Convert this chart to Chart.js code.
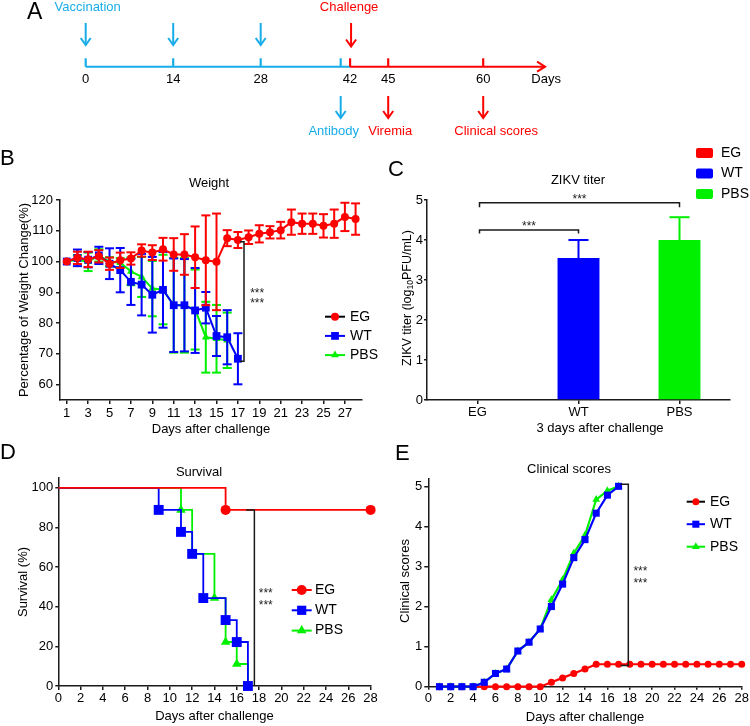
<!DOCTYPE html>
<html>
<head>
<meta charset="utf-8">
<script src="https://cdn.jsdelivr.net/npm/chart.js"></script>
<style>
  html, body { margin: 0; padding: 0; background: #fff; }
  #wrap { position: relative; width: 750px; height: 726px; overflow: hidden; background: #fff; }
  canvas { position: absolute; }
</style>
</head>
<body>
<div id="wrap">
  <canvas id="cA" style="left:0;top:0" width="750" height="145"></canvas>
  <canvas id="cB" style="left:0;top:145px" width="380" height="295"></canvas>
  <canvas id="cC" style="left:375px;top:145px" width="375" height="295"></canvas>
  <canvas id="cD" style="left:0;top:440px" width="380" height="286"></canvas>
  <canvas id="cE" style="left:375px;top:440px" width="375" height="286"></canvas>
</div>
<script>
// ---- data ----
const timelineDays = [0, 14, 28, 42, 45, 60];
const vaccinationDays = [0, 14, 28];
const challengeDay = 42;
const readoutDays = [42, 45, 60];
const readoutLabels = ['Antibody', 'Viremia', 'Clinical scores'];

const groups = ['EG', 'WT', 'PBS'];

// B: weight (% of day 1), mean and SD
const weightDays = [1,2,3,4,5,6,7,8,9,10,11,12,13,14,15,16,17,18,19,20,21,22,23,24,25,26,27,28];
const weightTicks = [1,3,5,7,9,11,13,15,17,19,21,23,25,27];
const egWeight = [100,101.2,100.7,101.7,99.3,100.4,101,103.6,102.9,104,102.3,102.3,101.4,100.4,99.9,107.6,107,107.9,109,109.5,110.2,112.8,112.3,112.3,111.6,112.3,114.5,113.8];
const egWeightSd = [0,2,2.5,2,2,2.5,2,2,2.4,3.7,5.3,6.6,10,14.6,15.7,2.6,2.6,2.2,2.8,2,2.7,4.1,3.3,3.3,3.8,4.6,4.6,5.1];
const wtWeight = [100,101.2,100.6,102,99.3,97.2,93.4,92.5,89.2,90.8,85.8,85.8,84.1,85,75.8,75.4,68.4];
const wtWeightSd = [0,2.7,2.5,2.8,5,7.2,7.5,10,12.3,12.3,15.2,15,13.8,5.1,6.5,8.8,8.3];
const pbsWeight = [100,100.6,99.9,102,99.9,99.6,96.8,95,91.2,90.9,85.8,85.8,84.4,75.4,74.9,74.4];
const pbsWeightSd = [0,1.5,3,2,1.5,1.5,4.5,6.5,9,11.3,15.4,15.4,13,11.5,11,9];
const weightStat = [17.57, 106.4, 67.6];

// C: ZIKV titer
const titerMean = [0, 3.55, 4.0];
const titerSd = [0, 0.45, 0.57];
const titerStat = [[0, 1, 4.25], [0, 2, 4.93]];

// D: survival (%)
const egSurvDays = [0, 15, 28];
const egSurv = [100, 88.9, 88.9];
const wtSurvDays = [0, 9, 11, 12, 13, 15, 16, 17];
const wtSurv = [100, 88.9, 77.8, 66.7, 44.4, 33.3, 22.2, 0];
const pbsSurvDays = [0, 11, 12, 14, 15, 16, 17];
const pbsSurv = [100, 88.9, 66.7, 44.4, 22.2, 11.1, 0];
const survTicks = [0, 20, 40, 60, 80, 100];
const survStat = [17.58, 88.9, 0];

// E: clinical scores
const scoreDays = [1,2,3,4,5,6,7,8,9,10,11,12,13,14,15,16,17,18,19,20,21,22,23,24,25,26,27,28];
const egScore = [0,0,0,0,0,0,0,0,0,0,0.11,0.22,0.33,0.44,0.56,0.56,0.56,0.56,0.56,0.56,0.56,0.56,0.56,0.56,0.56,0.56,0.56,0.56];
const wtScore = [0,0,0,0,0.11,0.33,0.44,0.89,1.11,1.44,2.0,2.56,3.22,3.67,4.33,4.78,5.0];
const pbsScore = [0,0,0,0,0.11,0.33,0.44,0.89,1.11,1.44,2.17,2.67,3.33,3.78,4.67,4.89,5.0];
const scoreStat = [17.87, 5.05, 0.53];

// ---- styles / layout ----
const FONT = '"Liberation Sans", Arial, Helvetica, sans-serif';
const RED = '#ff0000', BLUE = '#0000ff', GREEN = '#00f000', CYAN = '#18ade8', AXIS = '#1a1a1a';
// schematic (not to scale) positions of timeline days for panel A
const schematicX = { pre: {0: 0, 14: 14, 28: 28, 42: 40.8}, post: {42: 42.3, 45: 48.4, 60: 63.6}, end: 73.5 };

Chart.defaults.font.family = FONT;
Chart.defaults.font.size = 13;
Chart.defaults.color = '#000';
Chart.defaults.animation = false;
Chart.defaults.plugins.legend.display = false;
Chart.defaults.plugins.tooltip.enabled = false;

// ---- drawing helpers ----
function txt(ctx, s, x, y, size, color, align, rot) {
  ctx.save();
  ctx.font = size + 'px ' + FONT;
  ctx.fillStyle = color || '#000';
  ctx.textAlign = align || 'center';
  ctx.textBaseline = 'middle';
  ctx.translate(x, y);
  if (rot) ctx.rotate(rot);
  ctx.fillText(s, 0, 0);
  ctx.restore();
}
function stars(ctx, x, y) {
  ctx.save();
  ctx.font = '12px ' + FONT;
  ctx.fillStyle = '#222';
  ctx.textAlign = 'center';
  ctx.textBaseline = 'alphabetic';
  ctx.fillText('***', x, y + 12 * 0.57);
  ctx.restore();
}
function seg(ctx, pts, color, w) {
  ctx.save();
  ctx.strokeStyle = color;
  ctx.lineWidth = w;
  ctx.beginPath();
  pts.forEach((p, i) => i ? ctx.lineTo(p[0], p[1]) : ctx.moveTo(p[0], p[1]));
  ctx.stroke();
  ctx.restore();
}
function marker(ctx, style, x, y, r, color) {
  ctx.save();
  ctx.fillStyle = color;
  ctx.beginPath();
  if (style === 'circle') {
    ctx.arc(x, y, r, 0, Math.PI * 2);
  } else if (style === 'rect') {
    const s = r * Math.SQRT1_2;
    ctx.rect(x - s, y - s, 2 * s, 2 * s);
  } else {
    let a = 0;
    ctx.moveTo(x + Math.sin(a) * r, y - Math.cos(a) * r);
    a += Math.PI * 2 / 3;
    ctx.lineTo(x + Math.sin(a) * r, y - Math.cos(a) * r);
    a += Math.PI * 2 / 3;
    ctx.lineTo(x + Math.sin(a) * r, y - Math.cos(a) * r);
    ctx.closePath();
  }
  ctx.fill();
  ctx.restore();
}
function arrowDown(ctx, x, y1, y2, color) {
  seg(ctx, [[x, y1], [x, y2 - 1]], color, 2);
  seg(ctx, [[x - 5, y2 - 7], [x, y2], [x + 5, y2 - 7]], color, 2);
}
function legendRows(ctx, rows, x0, x1, textX, y0, dy) {
  rows.forEach((r, i) => {
    const y = y0 + i * dy;
    seg(ctx, [[x0, y], [x1, y]], r.line, 2);
    marker(ctx, r.style, (x0 + x1) / 2, y, r.r, r.color);
    txt(ctx, r.label, textX, y, 14, '#000', 'left');
  });
}

function makeErrorBars(sdLists, half, upOnly) {
  return {
    id: 'errorBars',
    beforeDatasetDraw(chart, args) {
      const sd = sdLists[args.index];
      if (!sd) return;
      const ds = chart.data.datasets[args.index];
      const ys = chart.scales.y, ctx = chart.ctx;
      args.meta.data.forEach((el, i) => {
        if (!sd[i]) return;
        const raw = ds.data[i];
        const v = typeof raw === 'object' ? raw.y : raw;
        const col = Array.isArray(ds.backgroundColor) ? ds.backgroundColor[i] : ds.borderColor;
        const top = ys.getPixelForValue(v + sd[i]);
        const bot = ys.getPixelForValue(upOnly ? v : v - sd[i]);
        seg(ctx, [[el.x, top], [el.x, bot]], col, 2);
        seg(ctx, [[el.x - half, top], [el.x + half, top]], col, 2);
        if (!upOnly) seg(ctx, [[el.x - half, bot], [el.x + half, bot]], col, 2);
      });
    }
  };
}

function axis(extra) {
  const base = {
    type: 'linear',
    border: { display: true, color: AXIS, width: 1.5 },
    grid: { display: true, drawOnChartArea: false, drawTicks: true, tickLength: 4, color: AXIS, lineWidth: 1.5 },
    ticks: { color: '#000', font: { family: FONT, size: 13 }, padding: 2, maxRotation: 0, autoSkip: false }
  };
  const o = Object.assign({}, base, extra);
  if (extra.grid) o.grid = Object.assign({}, base.grid, extra.grid);
  if (extra.ticks) o.ticks = Object.assign({}, base.ticks, extra.ticks);
  return o;
}
function fixX(h) { return s => { s.height = h; s.paddingLeft = 0; s.paddingRight = 0; }; }
function fixY(w) { return s => { s.width = w; s.paddingTop = 0; s.paddingBottom = 0; }; }
function setTicks(list) { return s => { s.ticks = list.map(v => ({ value: v })); }; }

function lineSet(xs, ys, color, style, r, extra) {
  return Object.assign({
    data: xs.map((x, i) => ({ x: x, y: ys[i] })).slice(0, ys.length),
    borderColor: color, backgroundColor: color, borderWidth: 2,
    pointStyle: style, pointRadius: r, pointBorderWidth: 0,
    pointBackgroundColor: color, tension: 0, clip: false
  }, extra || {});
}

// ---- A: timeline schematic ----
new Chart(document.getElementById('cA'), {
  type: 'scatter',
  data: { datasets: [{ data: [] }] },
  options: {
    responsive: false,
    layout: { padding: 0 },
    scales: {
      x: { type: 'linear', display: false, min: -13.712, max: 106.288 },
      y: { type: 'linear', display: false, min: 0, max: 1 }
    }
  },
  plugins: [{
    id: 'timeline',
    afterDraw(chart) {
      const ctx = chart.ctx, sx = v => chart.scales.x.getPixelForValue(v);
      const lineY = 66.7, tickTop = 58.3;
      const pre = d => sx(schematicX.pre[d]);
      const post = d => sx(schematicX.post[d]);
      const xEnd = sx(schematicX.end);
      txt(ctx, 'A', 27, 13, 23, '#000', 'left');
      // blue (pre-challenge) part
      seg(ctx, [[pre(0), lineY], [post(challengeDay), lineY]], CYAN, 2);
      [0, 14, 28, 42].forEach(d => seg(ctx, [[pre(d), tickTop], [pre(d), lineY]], CYAN, 2.2));
      // red (post-challenge) part
      seg(ctx, [[post(challengeDay), lineY], [xEnd, lineY]], RED, 2);
      [42, 45, 60].forEach(d => seg(ctx, [[post(d), tickTop], [post(d), lineY]], RED, 2.2));
      seg(ctx, [[xEnd - 8, lineY - 5], [xEnd, lineY], [xEnd - 8, lineY + 5]], RED, 2);
      timelineDays.forEach(d => {
        const x = d < challengeDay ? pre(d) : post(d);
        txt(ctx, String(d), x, 79.5, 13);
      });
      txt(ctx, 'Days', xEnd + 1, 79.5, 13);
      // events
      txt(ctx, 'Vaccination', pre(0) + 2, 7, 13, CYAN);
      vaccinationDays.forEach(d => arrowDown(ctx, pre(d), 23, 45, CYAN));
      txt(ctx, 'Challenge', post(challengeDay) - 1, 7, 13, RED);
      arrowDown(ctx, post(challengeDay) + 1, 23, 46.5, RED);
      const rx = [pre(42), post(45), post(60)];
      const labelShift = [-7, 2, 13];
      readoutDays.forEach((d, i) => {
        const col = i === 0 ? CYAN : RED;
        arrowDown(ctx, rx[i], 96, 118, col);
        txt(ctx, readoutLabels[i], rx[i] + labelShift[i], 131, 13, col);
      });
    }
  }]
});

// ---- B: weight ----
new Chart(document.getElementById('cB'), {
  type: 'line',
  data: {
    datasets: [
      lineSet(weightDays, egWeight, RED, 'circle', 4),
      lineSet(weightDays, wtWeight, BLUE, 'rect', 5.5),
      lineSet(weightDays, pbsWeight, GREEN, 'triangle', 4.5)
    ]
  },
  options: {
    responsive: false,
    layout: { padding: { left: 0, top: 55, right: 18, bottom: 0 } },
    scales: {
      x: axis({ min: 0.37, max: 28.6, afterBuildTicks: setTicks(weightTicks), afterFit: fixX(40) }),
      y: axis({ min: 55, max: 120, afterBuildTicks: setTicks([60, 70, 80, 90, 100, 110, 120]), ticks: { padding: 3 }, afterFit: fixY(60) })
    }
  },
  plugins: [makeErrorBars([egWeightSd, wtWeightSd, pbsWeightSd], 4.5, false), {
    id: 'decorB',
    afterDraw(chart) {
      const ctx = chart.ctx, ca = chart.chartArea, x = chart.scales.x, y = chart.scales.y;
      txt(ctx, 'B', 0, 14, 22, '#000', 'left');
      txt(ctx, 'Weight', 209, ca.top - 17, 13);
      txt(ctx, 'Percentage of Weight Change(%)', 24, (ca.top + ca.bottom) / 2, 13, '#000', 'center', -Math.PI / 2);
      txt(ctx, 'Days after challenge', (ca.left + ca.right) / 2, ca.bottom + 29, 13);
      const bx = x.getPixelForValue(weightStat[0]);
      seg(ctx, [[bx - 4, y.getPixelForValue(weightStat[1])], [bx, y.getPixelForValue(weightStat[1])],
                [bx, y.getPixelForValue(weightStat[2])], [bx - 4, y.getPixelForValue(weightStat[2])]], AXIS, 1.5);
      stars(ctx, x.getPixelForValue(18.8), y.getPixelForValue(90.7));
      stars(ctx, x.getPixelForValue(18.8), y.getPixelForValue(87.4));
      legendRows(ctx, [
        { label: groups[0], line: '#000', style: 'circle', r: 4, color: RED },
        { label: groups[1], line: BLUE, style: 'rect', r: 5.5, color: BLUE },
        { label: groups[2], line: GREEN, style: 'triangle', r: 4.5, color: GREEN }
      ], 325, 345, 350, ca.top + 116.7, 19.2);
    }
  }]
});

// ---- C: ZIKV titer ----
new Chart(document.getElementById('cC'), {
  type: 'bar',
  data: {
    labels: groups,
    datasets: [{ data: titerMean, backgroundColor: [RED, BLUE, GREEN], barPercentage: 0.415, categoryPercentage: 1, borderWidth: 0 }]
  },
  options: {
    responsive: false,
    layout: { padding: { left: 0, top: 55, right: 20, bottom: 0 } },
    scales: {
      x: axis({ type: 'category', grid: { offset: false }, ticks: { padding: 1 }, afterFit: fixX(40) }),
      y: axis({ min: 0, max: 5, ticks: { stepSize: 1, padding: 1 }, grid: { tickLength: 3 }, afterFit: fixY(52) })
    }
  },
  plugins: [makeErrorBars([titerSd], 10, true), {
    id: 'decorC',
    afterDraw(chart) {
      const ctx = chart.ctx, ca = chart.chartArea, x = chart.scales.x, y = chart.scales.y;
      txt(ctx, 'C', 13, 25, 22, '#000', 'left');
      txt(ctx, 'ZIKV titer', 203, ca.top - 20, 13);
      txt(ctx, '3 days after challenge', 225, ca.bottom + 28, 13);
      // y title with subscript
      ctx.save();
      ctx.translate(ca.left - 19, (ca.top + ca.bottom) / 2 - 2);
      ctx.rotate(-Math.PI / 2);
      ctx.fillStyle = '#000';
      ctx.textBaseline = 'middle';
      const parts = [['ZIKV titer (log', 12.5, 0], ['10', 8.5, 3], ['PFU/mL)', 12.5, 0]];
      let w = 0;
      parts.forEach(p => { ctx.font = p[1] + 'px ' + FONT; w += ctx.measureText(p[0]).width; });
      let cx = -w / 2;
      parts.forEach(p => { ctx.font = p[1] + 'px ' + FONT; ctx.textAlign = 'left'; ctx.fillText(p[0], cx, p[2]); cx += ctx.measureText(p[0]).width; });
      ctx.restore();
      // significance brackets
      titerStat.forEach((b, i) => {
        const x0 = x.getPixelForValue(b[0]) + 2, x1 = x.getPixelForValue(b[1]);
        const yy = y.getPixelForValue(b[2]), drop = i === 0 ? 3.5 : 4.5;
        seg(ctx, [[x0, yy + drop], [x0, yy], [x1, yy], [x1, yy + drop]], AXIS, 1.5);
        stars(ctx, (x0 + x1) / 2, yy - 7);
      });
      // legend
      [RED, BLUE, GREEN].forEach((c, i) => {
        const yy = 8 + i * 20.5;
        ctx.save();
        ctx.fillStyle = c;
        ctx.beginPath();
        if (ctx.roundRect) ctx.roundRect(321, yy - 5, 17, 10, 2); else ctx.rect(321, yy - 5, 17, 10);
        ctx.fill();
        ctx.restore();
        txt(ctx, groups[i], 346, yy, 14, '#000', 'left');
      });
    }
  }]
});

// ---- D: survival ----
new Chart(document.getElementById('cD'), {
  type: 'line',
  data: {
    datasets: [
      lineSet(egSurvDays, egSurv, RED, 'circle', egSurv.map((v, i) => i ? 5 : 0), { stepped: true, borderWidth: 1.8 }),
      lineSet(wtSurvDays, wtSurv, BLUE, 'rect', wtSurv.map((v, i) => i ? 7 : 0), { stepped: true, borderWidth: 1.8 }),
      lineSet(pbsSurvDays, pbsSurv, GREEN, 'triangle', pbsSurv.map((v, i) => i ? 5.5 : 0), { stepped: true, borderWidth: 1.8 })
    ]
  },
  options: {
    responsive: false,
    layout: { padding: { left: 0, top: 38, right: 9.4, bottom: 0 } },
    scales: {
      x: axis({ min: 0, max: 28, ticks: { stepSize: 2, padding: 1 }, afterFit: fixX(40) }),
      y: axis({ min: 0, max: 105, afterBuildTicks: setTicks(survTicks), grid: { tickLength: 3 }, afterFit: fixY(58.3) })
    }
  },
  plugins: [{
    id: 'decorD',
    afterDraw(chart) {
      const ctx = chart.ctx, ca = chart.chartArea, x = chart.scales.x, y = chart.scales.y;
      txt(ctx, 'D', 0, 13, 22, '#000', 'left');
      txt(ctx, 'Survival', 199, 32, 13);
      txt(ctx, 'Survival (%)', 23, (ca.top + ca.bottom) / 2, 13, '#000', 'center', -Math.PI / 2);
      txt(ctx, 'Days after challenge', (ca.left + ca.right) / 2, ca.bottom + 30, 13);
      const bx = x.getPixelForValue(survStat[0]);
      seg(ctx, [[x.getPixelForValue(16.85), y.getPixelForValue(survStat[1])], [bx, y.getPixelForValue(survStat[1])],
                [bx, y.getPixelForValue(survStat[2])]], AXIS, 1.5);
      stars(ctx, x.getPixelForValue(18.6), y.getPixelForValue(48.4));
      stars(ctx, x.getPixelForValue(18.6), y.getPixelForValue(42.5));
      legendRows(ctx, [
        { label: groups[0], line: RED, style: 'circle', r: 5, color: RED },
        { label: groups[1], line: BLUE, style: 'rect', r: 6.5, color: BLUE },
        { label: groups[2], line: GREEN, style: 'triangle', r: 5.5, color: GREEN }
      ], 291.7, 311.7, 315, 150, 20.3);
    }
  }]
});

// ---- E: clinical scores ----
new Chart(document.getElementById('cE'), {
  type: 'line',
  data: {
    datasets: [
      lineSet(scoreDays, egScore, RED, 'circle', 3.5, { order: 2, borderWidth: 2.2 }),
      lineSet(scoreDays, wtScore, BLUE, 'rect', 5, { order: 0, borderWidth: 2.2 }),
      lineSet(scoreDays, pbsScore, GREEN, 'triangle', 4.5, { order: 1, borderWidth: 2.2 })
    ]
  },
  options: {
    responsive: false,
    layout: { padding: { left: 0, top: 38.3, right: 8.3, bottom: 0 } },
    scales: {
      x: axis({ min: 0, max: 28, ticks: { stepSize: 2, padding: 1 }, grid: { tickLength: 3 }, afterFit: fixX(39.3) }),
      y: axis({ min: 0, max: 5.2, afterBuildTicks: setTicks([0, 1, 2, 3, 4, 5]), afterFit: fixY(53.3) })
    }
  },
  plugins: [{
    id: 'decorE',
    afterDraw(chart) {
      const ctx = chart.ctx, ca = chart.chartArea, x = chart.scales.x, y = chart.scales.y;
      txt(ctx, 'E', 20, 14, 22, '#000', 'left');
      txt(ctx, 'Clinical scores', 194, 29.3, 13);
      txt(ctx, 'Clinical scores', 30, 141, 13, '#000', 'center', -Math.PI / 2);
      txt(ctx, 'Days after challenge', 210, ca.bottom + 31, 13);
      const bx = x.getPixelForValue(scoreStat[0]), bl = x.getPixelForValue(17.18);
      seg(ctx, [[bl, y.getPixelForValue(scoreStat[1])], [bx, y.getPixelForValue(scoreStat[1])],
                [bx, y.getPixelForValue(scoreStat[2])], [bl, y.getPixelForValue(scoreStat[2])]], AXIS, 1.5);
      stars(ctx, x.getPixelForValue(18.95), y.getPixelForValue(2.97));
      stars(ctx, x.getPixelForValue(18.95), y.getPixelForValue(2.66));
      legendRows(ctx, [
        { label: groups[0], line: '#000', style: 'circle', r: 3.5, color: RED },
        { label: groups[1], line: BLUE, style: 'rect', r: 5, color: BLUE },
        { label: groups[2], line: GREEN, style: 'triangle', r: 4.5, color: GREEN }
      ], 311.7, 330, 335, 61.7, 22.5);
    }
  }]
});
</script>
</body>
</html>
